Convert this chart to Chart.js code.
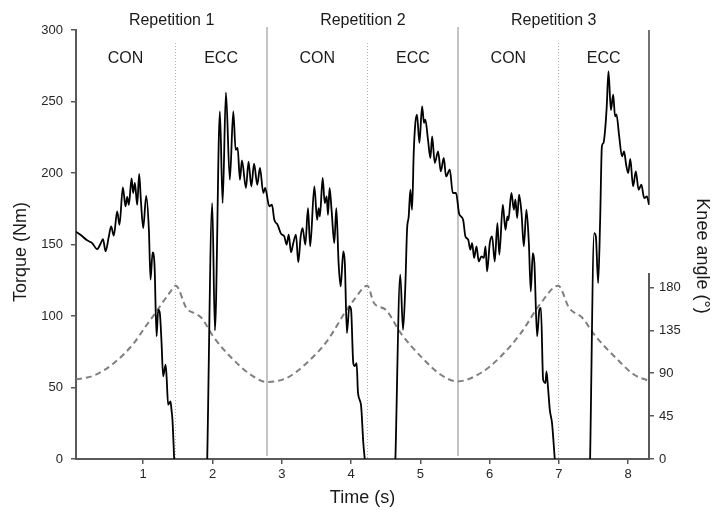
<!DOCTYPE html>
<html>
<head>
<meta charset="utf-8">
<script src="https://cdn.jsdelivr.net/npm/chart.js@4.4.1/dist/chart.umd.min.js"></script>
<style>
html,body{margin:0;padding:0;background:#ffffff;}
#wrap{width:714px;height:510px;position:relative;}
</style>
</head>
<body>
<div id="wrap"><canvas id="c" width="714" height="510"></canvas></div>
<script>
// ---------- data ----------
const torqueTime = [
  0.03,0.095,0.19,0.263,0.335,0.384,0.42,0.456,0.504,0.537,0.576,0.624,0.658,0.706,0.745,0.769,0.793,0.832,0.855,0.88,
  0.913,0.942,0.966,1.0,1.043,1.082,1.106,1.135,1.164,1.193,1.216,1.24,1.265,1.288,1.323,1.337,1.36,1.394,1.408,1.422,1.447,
  1.7,
  1.924,1.996,2.035,2.107,2.146,2.194,2.25,2.3,2.334,2.363,2.396,2.425,2.483,2.52,2.56,2.6,2.646,2.685,2.733,2.76,2.82,
  2.858,2.892,2.94,2.988,3.036,3.07,3.1,3.133,3.166,3.205,3.238,3.273,3.3,3.34,3.378,3.41,3.47,3.51,3.532,3.55,3.59,3.62,
  3.648,3.667,3.69,3.72,3.758,3.787,3.82,3.85,3.888,3.91,3.94,3.975,4.0,4.032,4.055,4.08,4.1,4.143,4.177,4.197,
  4.42,
  4.64,4.71,4.75,4.783,4.808,4.832,4.856,4.88,4.905,4.928,4.952,4.986,5.025,5.053,5.072,5.11,5.145,5.17,5.208,5.256,
  5.295,5.338,5.371,5.425,5.468,5.515,5.56,
  5.617,5.65,5.69,5.722,5.747,5.776,5.81,5.843,5.882,5.916,5.94,5.963,6.002,6.035,6.074,6.112,6.14,6.19,6.228,6.256,
  6.27,6.314,6.35,6.372,6.397,6.425,6.46,6.493,6.531,6.566,6.594,6.623,6.646,6.685,6.718,6.74,6.772,6.806,6.82,6.845,
  6.868,6.9,6.94,
  7.2,
  7.45,7.509,7.533,7.566,7.595,7.62,7.643,7.667,7.69,7.715,7.75,7.783,7.81,7.83,7.87,7.91,7.94,7.97,8.0,8.03,
  8.07,8.11,8.15,8.19,8.23,8.27,8.30
];
const torqueNm = [
  159,156.8,152.9,151,146.8,150.5,153.8,145.2,155.7,162.7,156.2,173.2,163.8,190,176.7,183.2,177.8,196.2,186,193,
  177.8,199.3,181.3,161.5,184,160.3,125.4,144.5,134.7,85.7,104.4,102,81,57.8,66,58,38,40.3,34.5,27.5,0,
  null,
  0,179,90,243,179,256.4,195.3,243,216.3,217.5,195.3,208.8,189.5,208,190.6,206.5,191.8,203.5,186,189.5,176.7,
  177.8,167.3,163.8,157.6,155.7,149.9,156.9,144.5,151,156.9,137.5,155.7,161.5,149.9,175.5,148.7,190.6,167.3,175.5,169.7,196.5,179,
  183.6,170.8,189.5,173.2,151,175.5,137,120.7,145.2,137,88.1,106.7,104.4,67.1,65,67.1,46.2,38,11,0,
  null,
  0,128.9,90.4,120.7,160.3,169.7,188.3,174.3,215.1,235,240.8,221,246.6,235,237.3,223.3,210.5,225.6,207,215.1,
  201.1,210.5,197.6,202.3,186,186,171.5,
  167.3,155.7,153.4,146.4,151,140.6,148.7,138.2,141.7,140.6,148.7,131.2,151,155.7,138.2,165,142.9,177.8,160.3,169.7,
  167,186,174.3,181.3,168.5,184.8,172,148.7,174.3,151,117.2,144,137,85.7,104.4,105.6,55.5,53.1,61.3,48.5,
  34.5,25.2,0,
  null,
  0,158,155.7,123,167.3,218.6,221,230.3,246.6,271,244,254.8,239.6,241,225.6,211.6,215.1,205.8,200,209.8,
  190.6,201.1,188.3,191.8,182.5,183.6,177.8
];
const angleTime = [
  0.03,0.287,0.576,0.865,1.0,1.154,1.24,1.385,1.47,1.626,1.77,1.843,2.01,2.3,2.588,2.78,
  3.07,3.36,3.65,3.937,4.042,4.235,4.33,4.5,4.717,5.006,5.295,5.534,
  5.872,6.161,6.45,6.739,6.99,7.148,7.34,7.51,7.8,8.086,8.28
];
const angleDeg = [
  83.5,87.5,100.5,121.5,135.5,151,160,174.7,181.8,158,152,147.9,128.6,104.2,86.6,80.8,
  85,100.7,123.4,156.6,167,181.8,163.6,156.6,132,107.6,88.4,81.4,
  90.2,107.6,132,163.6,181.8,158.4,147.9,130.4,107.6,88.4,82.4
];
const timeTicks = [1,2,3,4,5,6,7,8];
const torqueTicks = [0,50,100,150,200,250,300];
const angleTicks = [0,45,90,135,180];
const timeRange = [0.03, 8.3];
const torqueRange = [0, 300];
const angleRange = [0, 450];
const angleAxisTop = 195;
const repetitionBounds = [2.79, 5.55];
const phaseBounds = [1.457, 4.235, 6.99];
const repetitionLabels = ['Repetition 1','Repetition 2','Repetition 3'];
const phaseLabels = ['CON','ECC','CON','ECC','CON','ECC'];
const torqueTitle = 'Torque (Nm)';
const angleTitle = 'Knee angle (°)';
const timeTitle = 'Time (s)';

// ---------- build ----------
const FONT = "'Liberation Sans', Arial, sans-serif";
const AXIS = '#595959';
const TXT = '#1a1a1a';
const TICK = '#262626';

const torqueData = torqueTime.map((t,i)=>({x:t, y:torqueNm[i]}));
const angleData = angleTime.map((t,i)=>({x:t, y:angleDeg[i]}));

const overlay = {
  id:'overlay',
  beforeDatasetsDraw(chart){
    const {ctx, chartArea:a, scales:{x, y, y1}} = chart;
    ctx.save();
    // solid repetition separators
    ctx.strokeStyle = '#c4c4c4';
    ctx.lineWidth = 2;
    repetitionBounds.forEach(t=>{
      const px = Math.round(x.getPixelForValue(t));
      ctx.beginPath(); ctx.moveTo(px, a.top-3); ctx.lineTo(px, a.bottom-3); ctx.stroke();
    });
    // dotted phase separators
    ctx.strokeStyle = '#b0b0b0';
    ctx.lineWidth = 1;
    ctx.setLineDash([1,2]);
    phaseBounds.forEach(t=>{
      const px = Math.round(x.getPixelForValue(t))+0.5;
      ctx.beginPath(); ctx.moveTo(px, a.top+13); ctx.lineTo(px, a.bottom); ctx.stroke();
    });
    ctx.setLineDash([]);
    // right border segment (top part) down to the final torque value
    const lastT = torqueNm[torqueNm.length-1];
    ctx.strokeStyle = '#444';
    ctx.lineWidth = 1.5;
    ctx.beginPath(); ctx.moveTo(a.right, a.top); ctx.lineTo(a.right, y.getPixelForValue(lastT)); ctx.stroke();
    // right angle axis line (lower part)
    ctx.strokeStyle = AXIS;
    ctx.lineWidth = 2;
    ctx.beginPath(); ctx.moveTo(a.right, y1.getPixelForValue(0)+1); ctx.lineTo(a.right, y1.getPixelForValue(angleAxisTop)); ctx.stroke();
    ctx.restore();
  },
  afterDraw(chart){
    const {ctx, chartArea:a, scales:{x}} = chart;
    ctx.save();
    ctx.fillStyle = TXT;
    ctx.textAlign = 'center';
    ctx.textBaseline = 'alphabetic';
    ctx.font = '16px ' + FONT;
    const rb = [timeRange[0], ...repetitionBounds, timeRange[1]];
    repetitionLabels.forEach((s,i)=>{
      const px = (x.getPixelForValue(rb[i]) + x.getPixelForValue(rb[i+1]))/2;
      ctx.fillText(s, px, 25);
    });
    const pb = [timeRange[0], ...[...repetitionBounds, ...phaseBounds].sort((p,q)=>p-q), timeRange[1]];
    phaseLabels.forEach((s,i)=>{
      const px = (x.getPixelForValue(pb[i]) + x.getPixelForValue(pb[i+1]))/2;
      ctx.fillText(s, px, 63);
    });
    // vertical axis titles
    ctx.font = '18px ' + FONT;
    ctx.textBaseline = 'middle';
    ctx.save();
    ctx.translate(21, 252);
    ctx.rotate(-Math.PI/2);
    ctx.fillText(torqueTitle, 0, 0);
    ctx.restore();
    ctx.save();
    ctx.translate(702, 256);
    ctx.rotate(Math.PI/2);
    ctx.fillText(angleTitle, 0, 0);
    ctx.restore();
    ctx.restore();
  }
};

new Chart(document.getElementById('c'), {
  type:'line',
  data:{
    datasets:[
      {label:'Torque', data:torqueData, yAxisID:'y', borderColor:'#000000', borderWidth:1.8,
       pointRadius:0, cubicInterpolationMode:'monotone', spanGaps:false, fill:false, order:1},
      {label:'Knee angle', data:angleData, yAxisID:'y1', borderColor:'#7f7f7f', borderWidth:2,
       borderDash:[6,4], pointRadius:0, cubicInterpolationMode:'monotone', fill:false, order:2}
    ]
  },
  plugins:[overlay],
  options:{
    responsive:false,
    animation:false,
    devicePixelRatio:1,
    layout:{padding:{top:30,left:0,right:0,bottom:0}},
    plugins:{legend:{display:false}, tooltip:{enabled:false}, title:{display:false}},
    scales:{
      x:{
        type:'linear', min:timeRange[0], max:timeRange[1],
        afterBuildTicks(s){ s.ticks = timeTicks.map(v=>({value:v})); },
        afterFit(s){ s.height = 51; },
        ticks:{font:{size:13, family:FONT}, color:TICK, padding:3, maxRotation:0, autoSkip:false},
        grid:{display:true, drawOnChartArea:false, drawTicks:true, tickLength:5, color:AXIS, lineWidth:1.5},
        border:{display:true, color:AXIS, width:2},
        title:{display:true, text:timeTitle, color:TXT, font:{size:18, family:FONT}, padding:{top:0,bottom:1}}
      },
      y:{
        type:'linear', position:'left', min:torqueRange[0], max:torqueRange[1],
        afterBuildTicks(s){ s.ticks = torqueTicks.map(v=>({value:v})); },
        afterFit(s){ s.width = 76; },
        ticks:{font:{size:13, family:FONT}, color:TICK, padding:8},
        grid:{display:true, drawOnChartArea:false, drawTicks:true, tickLength:5, color:AXIS, lineWidth:1.5},
        border:{display:true, color:AXIS, width:2}
      },
      y1:{
        type:'linear', position:'right', min:angleRange[0], max:angleRange[1],
        afterBuildTicks(s){ s.ticks = angleTicks.map(v=>({value:v})); },
        afterFit(s){ s.width = 65; },
        ticks:{font:{size:13, family:FONT}, color:TICK, padding:5},
        grid:{display:true, drawOnChartArea:false, drawTicks:true, tickLength:5, color:AXIS, lineWidth:1.5},
        border:{display:false}
      }
    }
  }
});
</script>
</body>
</html>
